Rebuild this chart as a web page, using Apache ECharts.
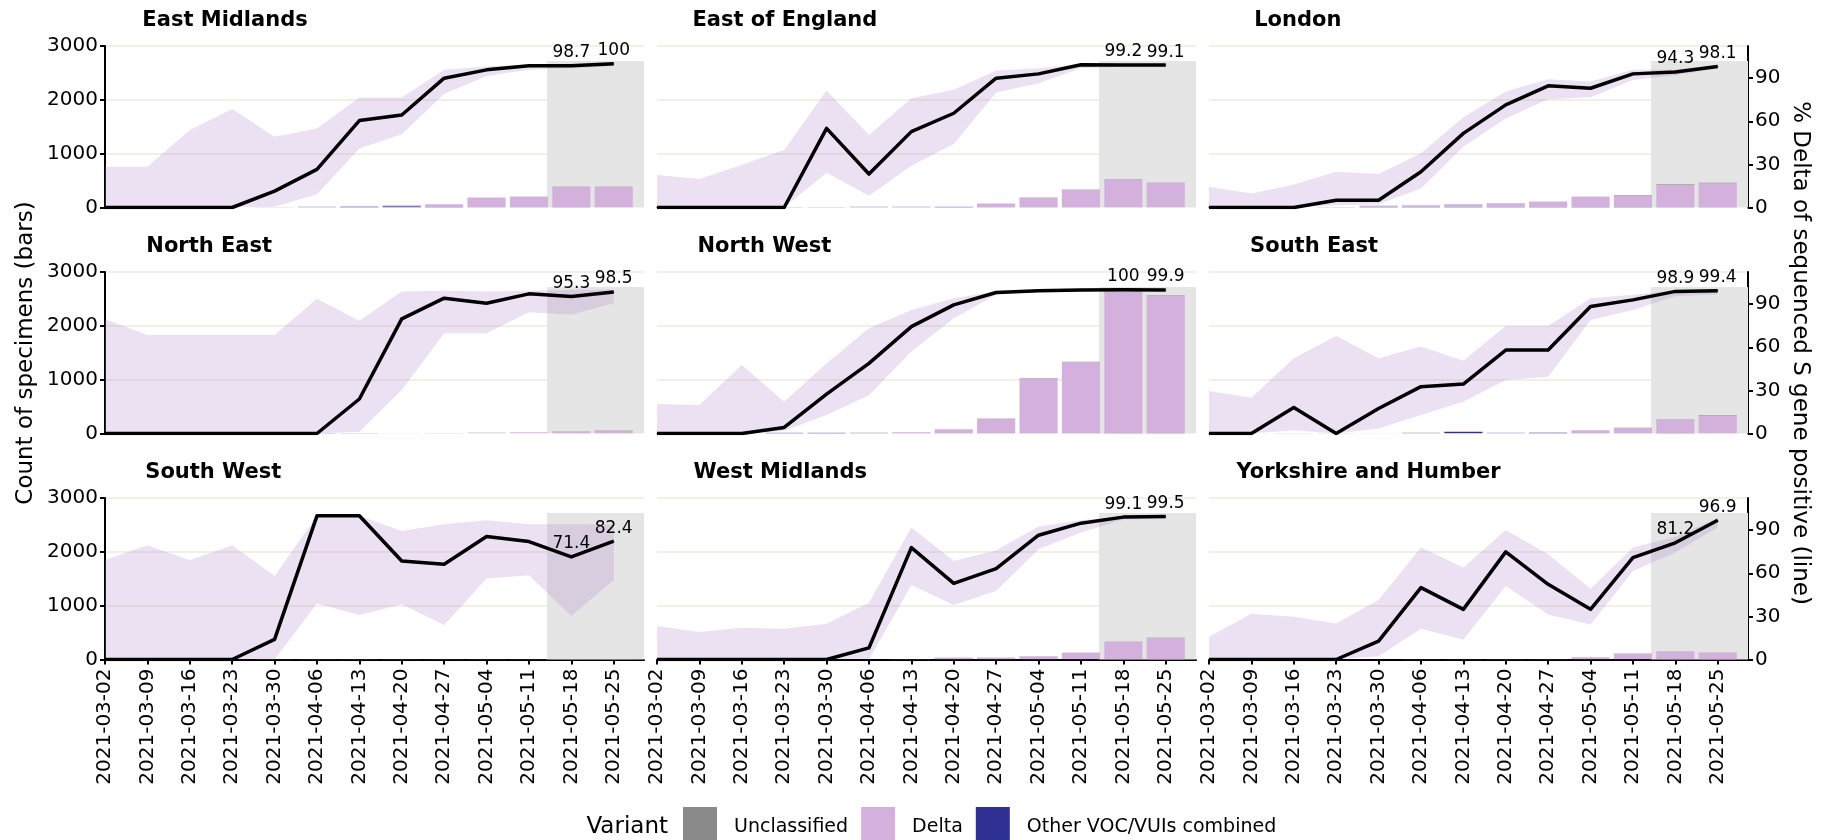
<!DOCTYPE html>
<html>
<head>
<meta charset="utf-8">
<script src="https://cdn.jsdelivr.net/npm/echarts@6/dist/echarts.min.js"></script>
<style>
  html, body { margin: 0; padding: 0; background: #fff; }
  #main { width: 1825px; height: 840px; }
</style>
</head>
<body>
<div id="main"></div>
<script>
// weeks (x axis)
const weekLabels = ['2021-03-02', '2021-03-09', '2021-03-16', '2021-03-23', '2021-03-30', '2021-04-06', '2021-04-13',
  '2021-04-20', '2021-04-27', '2021-05-04', '2021-05-11', '2021-05-18', '2021-05-25'];
const weekDays = [0, 7, 14, 21, 28, 35, 42, 49, 56, 63, 70, 77, 84]; // days since 2021-03-02

const regions = ['East Midlands', 'East of England', 'London', 'North East', 'North West', 'South East',
  'South West', 'West Midlands', 'Yorkshire and Humber'];

// % Delta of sequenced S gene positive (line), one row per region
const deltaPct = [
  [0, 0, 0, 0, 11.4, 26.5, 60.5, 64.4, 90, 95.8, 98.6, 98.7, 100],      // East Midlands
  [0, 0, 0, 0, 55.1, 23.3, 52.8, 65.6, 90, 93, 99.3, 99.2, 99.1],       // East of England
  [0, 0, 0, 5.1, 5.1, 24.9, 51.6, 71.4, 84.7, 83, 93, 94.3, 98.1],      // London
  [0, 0, 0, 0, 0, 0, 24, 79.8, 94.2, 90.7, 97.2, 95.3, 98.5],           // North East
  [0, 0, 0, 4.2, 27.4, 48.8, 74.4, 89.5, 98.1, 99.3, 99.8, 100, 99.9],  // North West
  [0, 0, 18.1, 0, 17.4, 32.6, 34.4, 58.1, 58.1, 88.4, 93, 98.9, 99.4],  // South East
  [0, 0, 0, 0, 14, 100, 100, 68.6, 66.3, 85.6, 82.1, 71.4, 82.4],       // South West
  [0, 0, 0, 0, 0, 8.1, 77.9, 53, 63.3, 86.5, 94.9, 99.1, 99.5],         // West Midlands
  [0, 0, 0, 0, 12.8, 50, 34.9, 74.9, 52.3, 34.9, 70.9, 81.2, 96.9]      // Yorkshire and Humber
];
// confidence band
const pctUpper = [
  [28.4, 28.4, 54, 68.6, 49.3, 55, 76.5, 76.5, 95.8, 98.1, 99.3, 99.5, 100],
  [22.6, 19.8, 29.8, 40, 81.4, 50.5, 76, 81.9, 95.3, 97, 99.8, 99.7, 99.6],
  [14.4, 9.8, 16, 24.9, 23.3, 37.7, 62.8, 80.7, 89.3, 87.7, 95.8, 96, 99],
  [79.5, 68.6, 68.6, 68.6, 68.6, 93.7, 78.4, 98.8, 99.3, 98.8, 99.3, 100, 100],
  [20.5, 19.8, 47.7, 22.1, 48.8, 73.3, 86, 94.2, 98.8, 99.7, 99.9, 100, 100],
  [29.5, 24.9, 52.3, 67.9, 52.3, 60.5, 50.7, 74.9, 74.9, 94.2, 96.5, 99.5, 99.8],
  [69.3, 79.5, 69.1, 79.5, 58.1, 100, 100, 89.5, 94.2, 97, 94.2, 94.2, 94],
  [23.3, 19.1, 22.1, 21.4, 24.9, 39.5, 91.9, 68.6, 76, 92.6, 97, 99.6, 99.8],
  [15.8, 31.9, 29.8, 25.1, 41.4, 77.9, 64, 90.2, 73.3, 49.3, 77.9, 85.5, 98.5]
];
const pctLower = [
  [0, 0, 0, 0, 0.5, 9.3, 41, 51, 79, 91.6, 95.8, 97, 98.5],
  [0, 0, 0, 0, 24.2, 8.1, 29, 44.2, 80, 86.5, 97, 98, 98],
  [0, 0, 0, 1.6, 2.3, 13.3, 42.3, 62, 75.3, 76.7, 88.8, 92, 97],
  [0, 0, 0, 0, 0, 0, 1.2, 30.2, 69.8, 69.8, 84.4, 82.6, 90.7],
  [0, 0, 0, 2, 12.8, 26.7, 57, 80.2, 96.5, 98.5, 99.3, 99.6, 99.5],
  [0, 0, 2.3, 0, 3.5, 12.8, 22.1, 37.2, 39.5, 79, 86, 95.5, 97],
  [0, 0, 0, 0, 0, 39, 31, 38.4, 24, 56.3, 58.6, 30.2, 55.3],
  [0, 0, 0, 0, 0, 0, 51.9, 37.9, 47.7, 76.7, 88.4, 97.5, 98],
  [0, 0, 0, 0, 2.3, 21.4, 14, 51.2, 31.4, 24.4, 61.6, 74.4, 92]
];

// count of specimens (bars)
const otherCount = [
  [0, 0, 0, 0, 1, 6, 14, 25, 10, 6, 5, 3, 2],
  [0, 0, 0, 3, 3, 6, 6, 8, 6, 4, 3, 2, 2],
  [0, 0, 1, 3, 12, 15, 15, 12, 10, 10, 8, 6, 5],
  [0, 0, 0, 0, 1, 4, 3, 2, 2, 2, 2, 2, 1],
  [0, 0, 1, 8, 10, 4, 4, 3, 3, 3, 3, 4, 4],
  [0, 1, 2, 2, 2, 6, 30, 6, 14, 4, 3, 3, 2],
  [0, 0, 0, 1, 1, 1, 1, 1, 1, 1, 1, 1, 1],
  [0, 0, 0, 0, 1, 1, 2, 3, 3, 3, 3, 3, 2],
  [0, 0, 0, 0, 1, 1, 2, 2, 2, 3, 3, 3, 2]
];
const deltaCount = [
  [0, 0, 0, 0, 1, 4, 9, 16, 50, 178, 192, 376, 380],
  [0, 0, 0, 0, 2, 5, 5, 9, 66, 179, 328, 521, 454],
  [0, 0, 0, 2, 16, 25, 43, 64, 90, 183, 215, 420, 447],
  [0, 0, 0, 0, 1, 4, 2, 3, 5, 8, 21, 32, 52],
  [0, 0, 0, 3, 7, 6, 18, 75, 273, 1016, 1324, 2624, 2551],
  [0, 0, 0, 0, 1, 4, 11, 11, 3, 55, 99, 258, 334],
  [0, 0, 0, 0, 1, 3, 3, 2, 2, 3, 3, 3, 4],
  [0, 0, 0, 0, 0, 0, 2, 26, 26, 56, 118, 322, 398],
  [0, 0, 0, 0, 0, 1, 0, 2, 2, 38, 106, 142, 119]
];
const unclCount = [
  [0, 0, 0, 0, 3, 2, 2, 2, 2, 2, 2, 6, 3],
  [0, 0, 0, 0, 1, 1, 1, 2, 3, 3, 4, 5, 4],
  [0, 0, 0, 1, 3, 3, 4, 5, 6, 6, 7, 9, 8],
  [0, 0, 0, 0, 1, 2, 1, 1, 1, 2, 2, 3, 3],
  [0, 0, 0, 1, 2, 2, 3, 3, 4, 6, 8, 12, 10],
  [0, 1, 1, 1, 1, 2, 2, 2, 2, 3, 4, 6, 6],
  [0, 0, 0, 0, 1, 1, 1, 1, 1, 1, 1, 1, 1],
  [0, 0, 0, 0, 0, 1, 1, 2, 2, 3, 3, 4, 4],
  [0, 0, 0, 0, 0, 1, 1, 1, 1, 2, 3, 4, 3]
];

const countTicks = [0, 1000, 2000, 3000];
const pctTicks = [0, 30, 60, 90];

// layout
const colLeft = [105, 657, 1209];
const rowTop = [46, 272, 498];
const panelW = 539;
const panelH = 161.5;
const lastDay = 89;
const shadeFrom = 73;   // 2021-05-14
const pctMax = 112.4;   // 3000 counts on the secondary scale
const barDays = 6.3;    // bar width = 0.9 week
const font = 'DejaVu Sans';

const colors = {
  uncl: '#8a8a8a',
  delta: '#d4b1dd',
  other: '#2e3192',
  ribbon: 'rgba(180,135,205,0.25)',
  shade: '#e5e5e5',
  grid: '#ebebdb'
};

const measure = document.createElement('canvas').getContext('2d');
function textWidth(t, f) {
  measure.font = f;
  return measure.measureText(t).width;
}

// stacked bar piece: value sits on top of base[k]
function stackRenderer(base) {
  return function (params, api) {
    const k = params.dataIndex;
    const d = api.value(0), v = api.value(1);
    if (!v) return null;
    const p0 = api.coord([d, base[k]]);
    const p1 = api.coord([d, base[k] + v]);
    const w = api.size([barDays, 0])[0];
    return {
      type: 'rect',
      shape: { x: p0[0] - w / 2, y: p1[1], width: w, height: p0[1] - p1[1] },
      style: { fill: api.visual('color') }
    };
  };
}

const myChart = echarts.init(document.getElementById('main'));

const grids = [], xAxes = [], yAxes = [], series = [], graphics = [];

regions.forEach((name, i) => {
  const r = Math.floor(i / 3), c = i % 3;
  const bottom = r === 2, left = c === 0, right = c === 2;

  grids.push({ left: colLeft[c], top: rowTop[r], width: panelW, height: panelH, containLabel: false, outerBoundsMode: 'none' });

  xAxes.push({
    gridIndex: i, type: 'value', min: 0, max: lastDay,
    splitLine: { show: false },
    axisLine: { show: bottom, onZero: false, lineStyle: { color: '#000', width: 2 } },
    axisTick: { show: bottom, length: 5, customValues: weekDays, lineStyle: { color: '#000', width: 2 } },
    axisLabel: {
      show: bottom, rotate: 90, margin: 9, customValues: weekDays,
      formatter: v => weekLabels[weekDays.indexOf(v)],
      fontFamily: font, fontSize: 20, color: '#000'
    }
  });

  // count axis (left)
  yAxes.push({
    gridIndex: i, type: 'value', position: 'left', min: 0, max: 3000, interval: 1000,
    splitLine: { show: true, showMinLine: false, lineStyle: { color: colors.grid, width: 1.5 } },
    axisLine: { show: left, onZero: false, lineStyle: { color: '#000', width: 2 } },
    axisTick: { show: left, length: 5, customValues: countTicks, lineStyle: { color: '#000', width: 2 } },
    axisLabel: {
      show: left, margin: 7, customValues: countTicks, formatter: v => String(v),
      fontFamily: font, fontSize: 20, color: '#000'
    }
  });
  // percent axis (right)
  yAxes.push({
    gridIndex: i, type: 'value', position: 'right', min: 0, max: pctMax,
    splitLine: { show: false },
    axisLine: { show: right, onZero: false, lineStyle: { color: '#000', width: 2 } },
    axisTick: { show: right, length: 5, customValues: pctTicks, lineStyle: { color: '#000', width: 2 } },
    axisLabel: {
      show: right, margin: 7, customValues: pctTicks, formatter: v => String(v),
      fontFamily: font, fontSize: 20, color: '#000'
    }
  });

  const yCount = 2 * i, yPct = 2 * i + 1;

  // stacked bars: other VOC at the bottom, then Delta, then unclassified
  const oth = otherCount[i], del = deltaCount[i], unc = unclCount[i];
  const zero = oth.map(() => 0);
  const overOther = oth.slice();
  const overDelta = oth.map((v, k) => v + del[k]);
  const stackParts = [
    ['Other VOC/VUIs combined', colors.other, oth, zero],
    ['Delta', colors.delta, del, overOther],
    ['Unclassified', colors.uncl, unc, overDelta]
  ];
  stackParts.forEach(([label, color, vals, base]) => {
    series.push({
      type: 'custom', name: label, xAxisIndex: i, yAxisIndex: yCount, z: 2, silent: true, clip: true,
      itemStyle: { color: color },
      data: weekDays.map((d, k) => [d, vals[k]]),
      renderItem: stackRenderer(base)
    });
  });

  // confidence ribbon
  const up = pctUpper[i], lo = pctLower[i];
  series.push({
    type: 'custom', xAxisIndex: i, yAxisIndex: yPct, z: 3, silent: true, clip: true,
    data: [[0, 0]],
    renderItem: (params, api) => {
      const pts = [];
      for (let k = 0; k < weekDays.length; k++) pts.push(api.coord([weekDays[k], up[k]]));
      for (let k = weekDays.length - 1; k >= 0; k--) pts.push(api.coord([weekDays[k], lo[k]]));
      return { type: 'polygon', shape: { points: pts }, style: { fill: colors.ribbon } };
    }
  });

  // % Delta line, labels on last two weeks, grey shading of incomplete weeks
  const pct = deltaPct[i];
  series.push({
    type: 'line', xAxisIndex: i, yAxisIndex: yPct, z: 4, silent: true,
    symbol: 'circle', symbolSize: 1, showSymbol: true,
    itemStyle: { color: '#000' },
    lineStyle: { color: '#000', width: 3.5, join: 'round' },
    data: weekDays.map((d, k) => ({
      value: [d, pct[k]],
      label: { show: k >= weekDays.length - 2 }
    })),
    label: {
      position: 'top', distance: 4, formatter: p => String(p.value[1]),
      fontFamily: font, fontSize: 17, color: '#000'
    },
    markArea: {
      silent: true,
      itemStyle: { color: colors.shade, opacity: 1 },
      data: [[{ xAxis: shadeFrom, yAxis: 0 }, { xAxis: lastDay, yAxis: 102 }]]
    }
  });

  // facet title
  const tFont = 'bold 21px "' + font + '"';
  const w = textWidth(name, tFont);
  graphics.push({
    type: 'text', x: colLeft[c] + 0.1 * (panelW - w), y: rowTop[r] - 25.5, silent: true,
    style: { text: name, font: tFont, fill: '#000', align: 'left', verticalAlign: 'middle' }
  });
});

// axis titles
graphics.push({
  type: 'text', x: 26, y: 353, rotation: Math.PI / 2, silent: true,
  style: { text: 'Count of specimens (bars)', font: '23px "' + font + '"', fill: '#000', align: 'center', verticalAlign: 'middle' }
});
graphics.push({
  type: 'text', x: 1800, y: 353, rotation: -Math.PI / 2, silent: true,
  style: { text: '% Delta of sequenced S gene positive (line)', font: '23px "' + font + '"', fill: '#000', align: 'center', verticalAlign: 'middle' }
});
// legend title
graphics.push({
  type: 'text', x: 668, y: 827, silent: true,
  style: { text: 'Variant', font: '23px "' + font + '"', fill: '#000', align: 'right', verticalAlign: 'middle' }
});

const option = {
  animation: false,
  grid: grids,
  xAxis: xAxes,
  yAxis: yAxes,
  legend: {
    data: ['Unclassified', 'Delta', 'Other VOC/VUIs combined'],
    left: 683, top: 807, padding: 0,
    icon: 'rect', itemWidth: 34, itemHeight: 40, itemGap: 13,
    selectedMode: false,
    textStyle: { fontFamily: font, fontSize: 19, color: '#000', padding: [0, 0, 0, 12] }
  },
  graphic: { elements: graphics },
  series: series
};

myChart.setOption(option);

window.addEventListener('resize', function () {
  myChart.resize();
});
</script>
</body>
</html>
